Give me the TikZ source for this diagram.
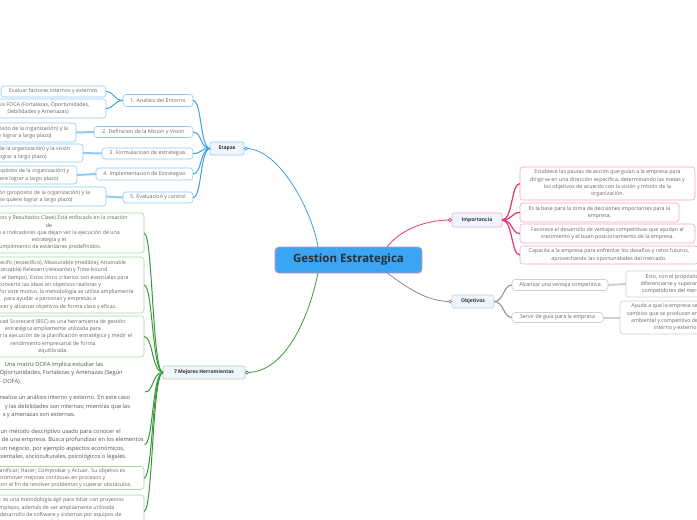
\documentclass[tikz,border=0pt]{standalone}
\usepackage{fontspec}
\setmainfont{Open Sans}
\definecolor{blueln}{HTML}{3AA0EA}
\definecolor{bluebd}{HTML}{8ECBF5}
\definecolor{pinkln}{HTML}{E5366F}
\definecolor{pinkbd}{HTML}{F2A6C1}
\definecolor{greyln}{HTML}{8C8C8C}
\definecolor{greybd}{HTML}{CFCFCF}
\definecolor{greenln}{HTML}{3A9A3A}
\definecolor{greenbd}{HTML}{A9D6A9}
\definecolor{catfill}{HTML}{EEF5FC}
\definecolor{cenfill}{HTML}{3BA4F3}
\definecolor{cenbd}{HTML}{D78DBA}
\definecolor{leaftxt}{HTML}{666666}
\definecolor{plaintxt}{HTML}{555555}
\definecolor{cattxt}{HTML}{333333}
\definecolor{centxt}{HTML}{263238}
\newcommand\fsleaf{\fontsize{5.3}{7.3}\selectfont}
\newcommand\fscat{\fontsize{5}{6}\selectfont\bfseries}
\newcommand\fsplain{\fontsize{5.7}{8.3}\selectfont}
\begin{document}
\begin{tikzpicture}[x=1pt,y=-1pt,
  every node/.style={inner sep=0.8pt, outer sep=0pt},
  leaf/.style={draw, rounded corners=3pt, fill=white, line width=0.6pt, text=leaftxt, align=center, font=\fsleaf},
  bleaf/.style={leaf, draw=bluebd},
  pleaf/.style={leaf, draw=pinkbd},
  gleaf/.style={leaf, draw=greybd},
  vleaf/.style={leaf, draw=greenbd},
  plaintext/.style={text=plaintxt, font=\fsplain},
  cat/.style={draw, rounded corners=2pt, fill=catfill, line width=0.6pt, text=cattxt, font=\fscat},
  central/.style={draw=cenbd, fill=cenfill, rounded corners=4pt, line width=0.8pt, text=centxt, font=\fontsize{11.5}{13}\selectfont\bfseries},
  mainln/.style={line width=0.8pt},
  forkln/.style={line width=1pt},
  thickln/.style={line width=2pt},
  tipdot/.style={fill=white, line width=0.6pt}
]
\useasboundingbox (0,0) rectangle (697,520);
\fill[white] (0,0) rectangle (697,520);

% central
\node[central, minimum width=147pt, minimum height=26pt] (c) at (348.5,260) {Gestion Estrategica};

% categories
\node[cat, draw=bluebd, minimum width=34pt, minimum height=13pt] (et) at (227,148.5) {Etapas};
\node[cat, draw=pinkbd, minimum width=50pt, minimum height=14pt] (im) at (477,220) {Importancia};
\node[cat, draw=greybd, minimum width=42pt, minimum height=13pt] (ob) at (473,301.5) {Objetivos};
\node[cat, draw=greenbd, minimum width=82pt, minimum height=13pt] (mh) at (204,372.5) {7 Mejores Herramientas};

% Etapas children
\node[bleaf, minimum width=70pt, minimum height=12pt] (e1) at (158,100.5) {1. Analisis del Entorno};
\node[bleaf, minimum width=99pt, minimum height=11pt] (e2) at (143.5,132) {2. Definicion de la Mision y Vision};
\node[bleaf, minimum width=91pt, minimum height=11pt] (e3) at (147.5,153.5) {3. Formulacioan de estrategias};
\node[bleaf, minimum width=97pt, minimum height=12pt] (e4) at (144.5,174) {4. Implementacion de Estrategias};
\node[bleaf, minimum width=70pt, minimum height=11pt] (e5) at (158,197.5) {5. Evaluacion y control};

\node[bleaf, minimum width=105pt, minimum height=11pt] (g1) at (53.5,91.5) {Evaluar factores internos y externos};
\node[bleaf, minimum width=136pt, minimum height=19pt] (g2) at (38,108.5) {Analisis FOCA (Fortalezas, Oportunidades,\\Debilidades y Amenazas)};
\node[bleaf, minimum width=156pt, minimum height=19pt] (g3) at (-2,132.5) {Definición de la Misión (propósito de la organización) y la\\visión (lo que se quiere lograr a largo plazo)};
\node[bleaf, minimum width=164pt, minimum height=18pt] (g4) at (1,153) {Según la misión (propósito de la organización) y la visión\\(lo que se quiere lograr a largo plazo)};
\node[bleaf, minimum width=150pt, minimum height=18pt] (g5) at (2,175) {Implementar la misión (propósito de la organización) y\\la visión (lo que se quiere lograr a largo plazo)};
\node[bleaf, minimum width=174pt, minimum height=19pt] (g6) at (19,196.5) {Evaluación de la misión (propósito de la organización) y la\\visión (lo que se quiere lograr a largo plazo)};

% Importancia children
\node[pleaf, minimum width=175pt, minimum height=33pt] (i1) at (607.5,183.5) {Establece las pautas de acción que guían a la empresa para\\dirigirse en una dirección específica, determinando las metas y\\los objetivos de acuerdo con la visión y misión de la\\organización.};
\node[pleaf, minimum width=159pt, minimum height=19pt] (i2) at (599.5,212.5) {Es la base para la toma de decisiones importantes para la\\empresa.};
\node[pleaf, minimum width=175pt, minimum height=19pt] (i3) at (607.5,233.5) {Favorece el desarrollo de ventajas competitivas que ayudan al\\crecimiento y el buen posicionamiento de la empresa.};
\node[pleaf, minimum width=178pt, minimum height=18pt] (i4) at (609,255) {Capacita a la empresa para enfrentar los desafíos y retos futuros,\\aprovechando las oportunidades del mercado.};

% Objetivos children
\node[gleaf, minimum width=96pt, minimum height=11pt] (oa) at (560,285) {Alcanzar una ventaja competitiva};
\node[gleaf, minimum width=91pt, minimum height=10pt] (os) at (557.5,317.5) {Servir de guía para la empresa};
\node[gleaf, minimum width=100pt, minimum height=26pt] (oag) at (676,284) {Esto, con el propósito de\\diferenciarse y superar a sus\\competidores del mercado.};
\node[gleaf, minimum width=112pt, minimum height=33pt] (osg) at (676,317.5) {Ayuda a que la empresa se adapte a\\cambios que se producen en el entorno\\ambiental y competitivo del entorno\\interno y externo.};

% Herramientas children
\node[vleaf, minimum width=190pt, minimum height=40pt] (h1) at (49,233) {OKR (Objetivos y Resultados Clave) Está enfocado  en la creación\\de\\las metas e indicadores que dejan ver la ejecución de una\\estrategia y el\\cumplimiento de estándares predefinidos.};
\node[vleaf, minimum width=188pt, minimum height=56pt] (h2) at (50,285) {SMART: Specific (específico), Measurable (medible), Attainable\\(alcanzable) Relevant (relevante) y Time-bound\\(limitado en el tiempo). Estos cinco criterios son esenciales para\\convertir las ideas en objetivos realistas y\\alcanzables. Por este motivo, la metodología se utiliza ampliamente\\para ayudar a personas y empresas a\\establecer y alcanzar objetivos de forma clara y eficaz.};
\node[vleaf, minimum width=182pt, minimum height=41pt] (h3) at (53,336.5) {El Balanced Scorecard (BSC) es una herramienta de gestión\\estratégica ampliamente utilizada para\\monitorear la ejecución de la planificación estratégica y medir el\\rendimiento empresarial de forma\\equilibrada.};
\node[plaintext, align=left, anchor=west, minimum height=56pt] (h4) at (-1,390) {\hspace*{5pt}Una matriz DOFA implica estudiar las\\Oportunidades, Fortalezas y Amenazas (Según\\- DOFA).\\[8.3pt]realiza un análisis interno y externo. En este caso\\\hspace*{5pt}y las debilidades son internas; mientras que las\\\hspace*{3pt}s y amenazas son externas.};
\node[plaintext, align=center, minimum width=190pt, minimum height=34pt] (h5) at (46,444.5) {PESTEL: Es un método descriptivo usado para conocer el\\análisis del entorno de una empresa. Busca profundizar en los elementos\\externos de un negocio, por ejemplo aspectos económicos,\\políticos, ambientales, socioculturales, psicológicos o legales.};
\node[vleaf, minimum width=184pt, minimum height=23pt] (h6) at (52,478) {PDCA: Planificar; Hacer; Comprobar y Actuar. Su objetivo es\\promover mejoras continuas en procesos y\\productos con el fin de resolver problemas y superar obstáculos.};
\node[vleaf, minimum width=180pt, minimum height=33pt] (h7) at (54,511.5) {Scrum: es una metodología ágil para lidiar con proyectos\\complejos, además de ser ampliamente utilizada\\en el desarrollo de software y sistemas por equipos de\\trabajo.};
\coordinate (h4e) at (145,392);

% main connectors
\draw[blueln, mainln] ([xshift=-30.5pt]c.north) .. controls +(-6,-37) and +(33,0) .. ([xshift=2pt]et.east);
\draw[pinkln, mainln] ([xshift=38.5pt]c.north) .. controls +(12,-16) and +(-26,0) .. ([xshift=-2pt]im.west);
\draw[greyln, mainln] ([xshift=38.5pt]c.south) .. controls +(16,11) and +(-26,0) .. ([xshift=-2pt]ob.west);
\draw[greenln, mainln] ([xshift=-30.5pt]c.south) .. controls +(-8,40) and +(40,0) .. ([xshift=2pt]mh.east);
\draw[blueln, tipdot] ([xshift=2pt]et.east) circle (1.6pt);
\draw[pinkln, tipdot] ([xshift=-2pt]im.west) circle (1.6pt);
\draw[greyln, tipdot] ([xshift=-2pt]ob.west) circle (1.6pt);
\draw[greenln, tipdot] ([xshift=2pt]mh.east) circle (1.6pt);

% Etapas fork
\foreach \n in {e1,e2,e3,e4,e5}
  \draw[blueln, forkln] (et.west) .. controls +(-10,0) and +(9,0) .. (\n.east);
\foreach \n in {g1,g2}
  \draw[blueln, forkln] (e1.west) .. controls +(-9,0) and +(8,0) .. (\n.east);
\draw[bluebd, thickln] (e2.west) -- (g3.east);
\draw[bluebd, thickln] (e3.west) -- (g4.east);
\draw[bluebd, thickln] (e4.west) -- (g5.east);
\draw[bluebd, thickln] (e5.west) -- (g6.east);

% Importancia fork
\foreach \n in {i1,i2,i3,i4}
  \draw[pinkln, line width=1.2pt] (im.east) .. controls +(11,0) and +(-9,0) .. (\n.west);

% Objetivos fork
\foreach \n in {oa,os}
  \draw[greyln, forkln] (ob.east) .. controls +(10,0) and +(-9,0) .. (\n.west);
\draw[greybd, thickln] (oa.east) -- (oag.west);
\draw[greybd, thickln] (os.east) -- (osg.west);

% Herramientas fork
\foreach \n in {h1,h2,h3,h5,h6,h7}
  \draw[greenln, forkln] (mh.west) .. controls +(-11,0) and +(9,0) .. (\n.east);
\draw[greenln, forkln] (mh.west) .. controls +(-11,0) and +(9,0) .. (h4e);
\end{tikzpicture}
\end{document}
